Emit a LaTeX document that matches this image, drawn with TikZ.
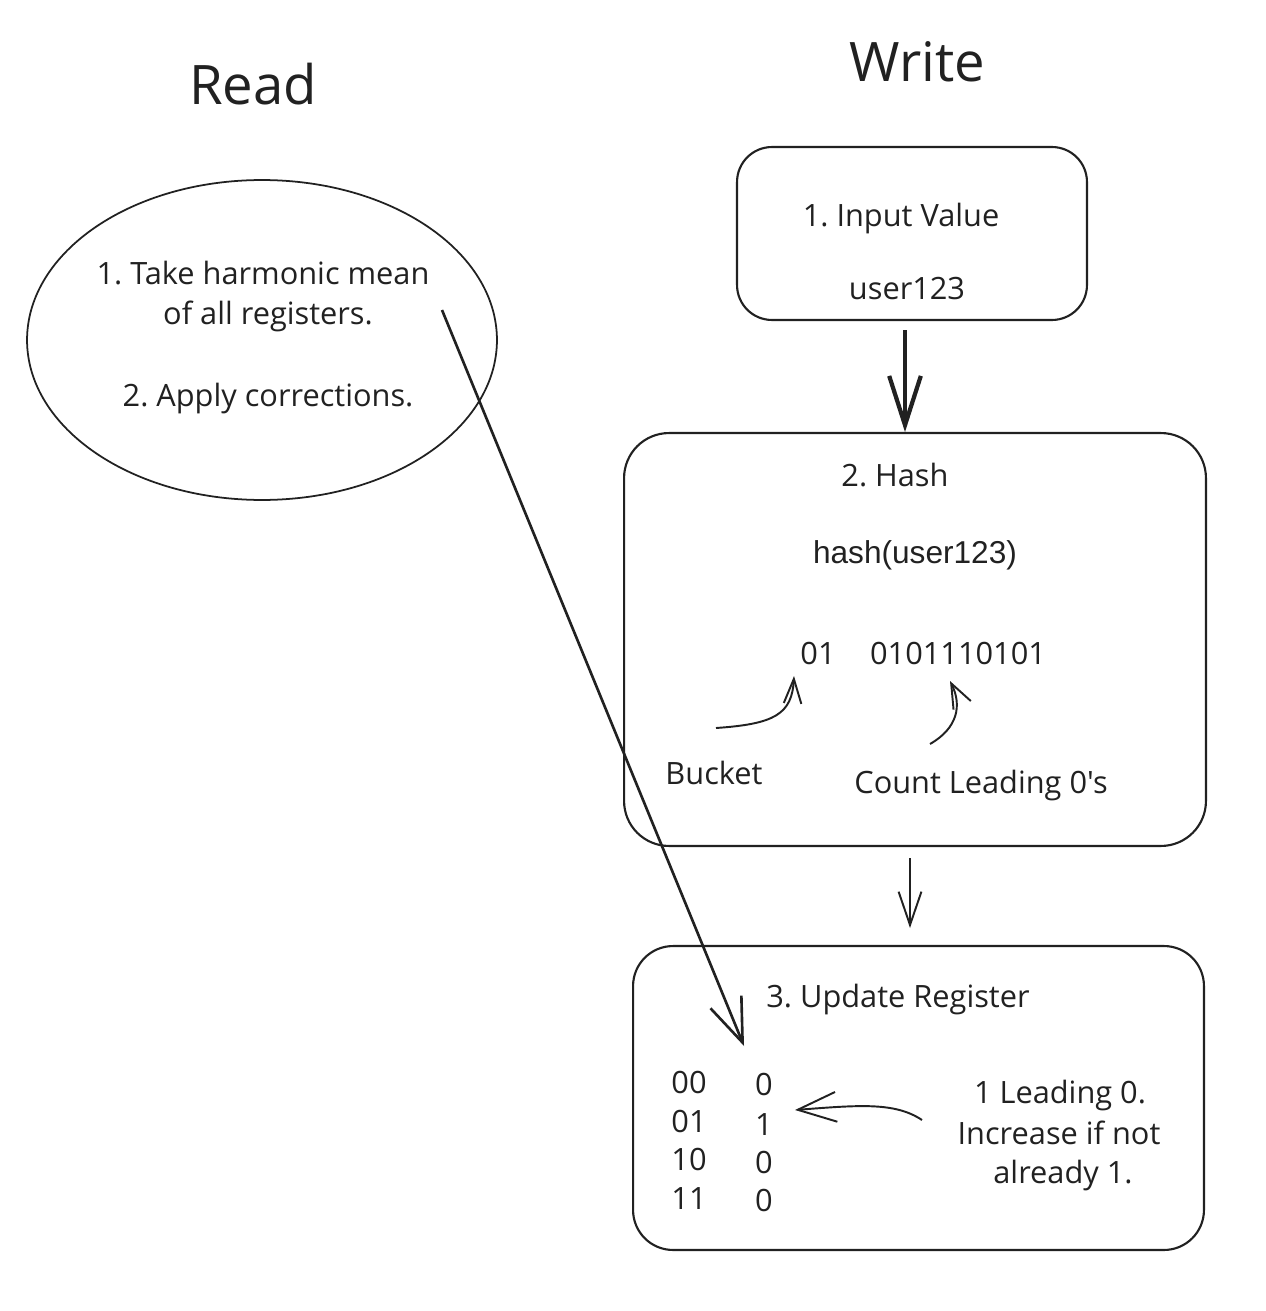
\documentclass[tikz,border=0pt]{standalone}
\usepackage{fontspec}
\setmainfont{Open Sans}[Ligatures=TeXOff]
\newfontfamily\arialf{Liberation Sans}
\usetikzlibrary{arrows.meta,shapes.geometric}
\frenchspacing
\tikzset{
  txt/.style={anchor=base,inner sep=0pt,text=black!87,font=\fontsize{17.5}{21}\selectfont},
  title/.style={anchor=base,inner sep=0pt,text=black!87,font=\fontsize{31}{37}\selectfont},
  boxa/.style={draw=black!87,line width=1.2pt,rounded corners=#1,inner sep=0pt},
  ell/.style={draw=black!87,line width=1.0pt,ellipse,inner sep=0pt,minimum width=9.4cm,minimum height=6.4cm},
  thinarrow/.style={draw=black!87,line width=1.1pt},
  bigarrow/.style={draw=black!87,line width=2.4pt,-{Straight Barb[length=28pt,width=18pt]}},
}
\begin{document}
\begin{tikzpicture}[x=0.02cm,y=-0.02cm]
\useasboundingbox[fill=white] (0,0) rectangle (1266,1311);
% titles
\node[title] (read) at (253,105) {Read};
\node[title] (write) at (917,82) {Write};
% read ellipse
\node[ell] (ellipse) at (262,340) {};
\node[txt] (r1) at (263,284) {1. Take harmonic mean};
\node[txt] (r2) at (268,324) {of all registers.};
\node[txt] (r3) at (268,406) {2. Apply corrections.};
% input box
\node[boxa=0.7cm,minimum width=7cm,minimum height=3.46cm] (inbox) at (912,233.5) {};
\node[txt] (in1) at (901,227) {1. Input Value};
\node[txt] (in2) at (907,299) {user123};
% hash box
\node[boxa=0.9cm,minimum width=11.64cm,minimum height=8.26cm] (hbox) at (915,639.5) {};
\node[txt] (h1) at (895,486) {2. Hash};
\node[txt,font=\arialf\fontsize{18}{21}\selectfont] (h2) at (915,563) {hash(user123)};
\node[txt] (hb) at (818,664) {01};
\node[txt] (hz) at (958,664) {0101110101};
\node[txt] (bucket) at (714,784) {Bucket};
\node[txt] (count) at (981,793) {Count Leading 0's};
% register box
\node[boxa=0.8cm,minimum width=11.42cm,minimum height=6.08cm] (rbox) at (918.5,1098) {};
\node[txt] (u1) at (898,1007) {3. Update Register};
\node[txt] (k1) at (689,1093) {00};
\node[txt] (k2) at (689,1132) {01};
\node[txt] (k3) at (689,1170) {10};
\node[txt] (k4) at (689,1209) {11};
\node[txt] (v1) at (764,1095) {0};
\node[txt] (v2) at (764,1135) {1};
\node[txt] (v3) at (764,1173) {0};
\node[txt] (v4) at (764,1211) {0};
\node[txt] (n1) at (1060,1103) {1 Leading 0.};
\node[txt] (n2) at (1059,1144) {Increase if not};
\node[txt] (n3) at (1063,1183) {already 1.};
% connector end points
\coordinate (a1s) at (905,330);
\coordinate (a1e) at (905,432);
\coordinate (a2s) at (910,858);
\coordinate (a2e) at (910,928);
\coordinate (bks) at (716,728);
\coordinate (bke) at (794,676);
\coordinate (cts) at (930,744);
\coordinate (cte) at (950,681);
\coordinate (rgs) at (922,1120);
\coordinate (rge) at (795,1110);
\coordinate (lgs) at (442,310);
\coordinate (lge) at (744,1046);
% connectors
\draw[bigarrow] (a1s) -- (a1e);
\draw[thinarrow,-{Straight Barb[length=19pt,width=13pt]}] (a2s) -- (a2e);
\draw[thinarrow,-{Straight Barb[length=14pt,width=10pt]}] (bks) .. controls (775,724) and (792,714) .. (bke);
\draw[thinarrow,-{Straight Barb[length=14pt,width=11pt]}] (cts) .. controls (958,728) and (962,705) .. (cte);
\draw[thinarrow,-{Straight Barb[length=22pt,width=17pt]}] (rgs) .. controls (895,1102) and (860,1105) .. (rge);
\draw[draw=black!87,line width=1.5pt,-{Straight Barb[length=25pt,width=19pt]}] (lgs) -- (lge);
\end{tikzpicture}
\end{document}
